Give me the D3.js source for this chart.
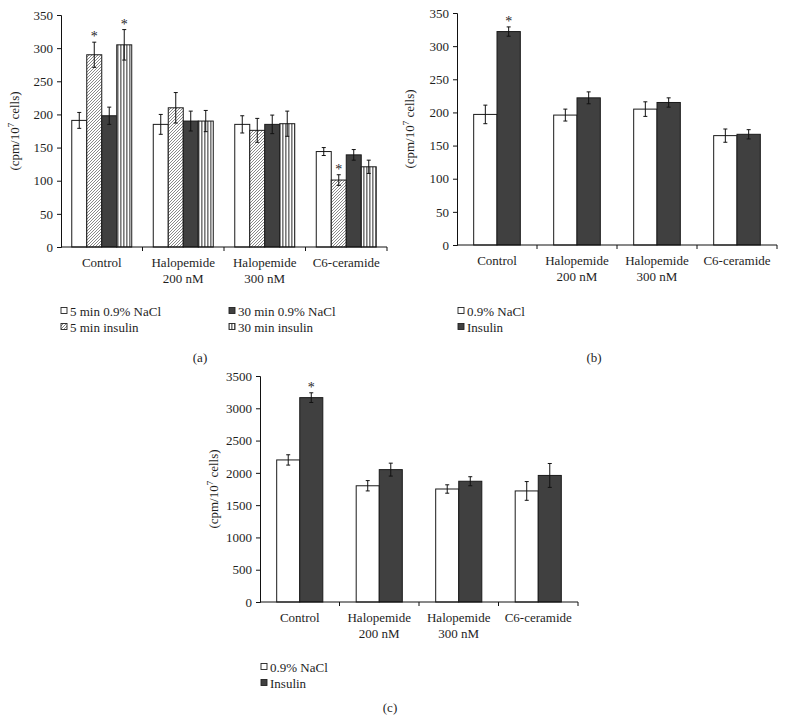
<!DOCTYPE html>
<html><head><meta charset="utf-8">
<script src="https://cdn.jsdelivr.net/npm/d3@7"></script>
<style>
html,body{margin:0;padding:0;background:#fff;}
svg{display:block;}
svg text{font-family:"Liberation Serif","Tinos","Times New Roman",Times,"DejaVu Serif","Noto Serif",serif;}
</style></head>
<body>
<svg id="c" width="785" height="723"></svg>
<script>
// ---------- data ----------
const categories = ["Control", "Halopemide|200 nM", "Halopemide|300 nM", "C6-ceramide"];

// panel (a)
const seriesA = ["5 min 0.9% NaCl", "5 min insulin", "30 min 0.9% NaCl", "30 min insulin"];
const a_5minNaCl   = [191, 185, 185, 144];
const a_5minIns    = [290, 210, 176, 101];
const a_30minNaCl  = [198, 190, 185, 139];
const a_30minIns   = [305, 190, 186, 121];
const a_err5NaCl   = [12, 15, 13, 6];
const a_err5Ins    = [19, 23, 18, 8];
const a_err30NaCl  = [13, 15, 14, 8];
const a_err30Ins   = [23, 16, 19, 10];
const a_star5Ins   = [true, false, false, true];
const a_star30Ins  = [true, false, false, false];
const ticksA = [0, 50, 100, 150, 200, 250, 300, 350];

// panel (b)
const seriesB = ["0.9% NaCl", "Insulin"];
const b_NaCl   = [197, 196, 205, 165];
const b_Ins    = [322, 222, 215, 167];
const b_errNaCl = [14, 9, 11, 10];
const b_errIns  = [7, 9, 7, 7];
const b_starIns = [true, false, false, false];
const ticksB = [0, 50, 100, 150, 200, 250, 300, 350];

// panel (c)
const seriesC = ["0.9% NaCl", "Insulin"];
const c_NaCl   = [2200, 1800, 1750, 1720];
const c_Ins    = [3165, 2050, 1870, 1960];
const c_errNaCl = [80, 80, 65, 145];
const c_errIns  = [75, 100, 70, 185];
const c_starIns = [true, false, false, false];
const ticksC = [0, 500, 1000, 1500, 2000, 2500, 3000, 3500];

// ---------- drawing ----------
const FF = '"Liberation Serif", Tinos, "Times New Roman", Times, "DejaVu Serif", serif';
const svg = d3.select("#c");
const FONT = 13;
const TXT = "#1e1e1e";
const defs = svg.append("defs");

const diag = defs.append("pattern").attr("id", "diag").attr("patternUnits", "userSpaceOnUse")
  .attr("width", 3).attr("height", 3);
diag.append("rect").attr("width", 3).attr("height", 3).attr("fill", "#fff");
diag.append("path").attr("d", "M-1,1 l2,-2 M0,3 l3,-3 M2,4 l2,-2").attr("stroke", "#7c7c7c").attr("stroke-width", 0.9);

const vert = defs.append("pattern").attr("id", "vert").attr("patternUnits", "userSpaceOnUse")
  .attr("width", 3).attr("height", 4);
vert.append("rect").attr("width", 3).attr("height", 4).attr("fill", "#fff");
vert.append("rect").attr("x", 0).attr("width", 1.6).attr("height", 4).attr("fill", "#7a7a7a");

const fills = { white: "#ffffff", diag: "url(#diag)", dark: "#404040", vert: "url(#vert)" };

function txt(g, x, y, s, size, anchor) {
  return g.append("text").attr("x", x).attr("y", y).attr("text-anchor", anchor || "start")
    .attr("font-family", FF).attr("font-size", size || FONT).attr("fill", TXT).text(s);
}

function drawPanel(cfg) {
  const g = svg.append("g");
  const x = d3.scaleBand().domain(categories).range([cfg.x0, cfg.x1]).padding(0);
  const y = d3.scaleLinear().domain([0, cfg.ymax]).range([cfg.y0, cfg.ytop]);
  const groupW = x.bandwidth() * cfg.groupFrac;
  const xi = d3.scaleBand().domain(d3.range(cfg.series.length)).range([0, groupW]).padding(0);

  cfg.series.forEach((s, si) => {
    categories.forEach((cat, ci) => {
      const bx = x(cat) + (x.bandwidth() - groupW) / 2 + xi(si);
      const v = s.values[ci];
      g.append("rect")
        .attr("x", bx).attr("y", y(v))
        .attr("width", xi.bandwidth()).attr("height", y(0) - y(v))
        .attr("fill", fills[s.fill]).attr("stroke", "#1a1a1a").attr("stroke-width", 1);
      const e = s.err[ci];
      const cx = bx + xi.bandwidth() / 2;
      g.append("line").attr("x1", cx).attr("x2", cx).attr("y1", y(v + e)).attr("y2", y(v - e))
        .attr("stroke", "#111").attr("stroke-width", 1);
      [v + e, v - e].forEach(t => g.append("line").attr("x1", cx - 2).attr("x2", cx + 2)
        .attr("y1", y(t)).attr("y2", y(t)).attr("stroke", "#111").attr("stroke-width", 1));
      if (s.star && s.star[ci]) txt(g, cx, y(v + e) - 1, "*", 14, "middle");
    });
  });

  const ya = g.append("g").attr("transform", `translate(${cfg.x0},0)`)
    .call(d3.axisLeft(y).tickValues(cfg.ticks).tickSize(4).tickPadding(4).tickFormat(d3.format("d")));
  ya.attr("font-family", FF);
  ya.select(".domain").attr("stroke", "#111");
  ya.selectAll("line").attr("stroke", "#111");
  ya.selectAll("text").attr("font-size", FONT).attr("font-family", FF).attr("fill", TXT);

  g.append("line").attr("x1", cfg.x0).attr("x2", cfg.x1).attr("y1", cfg.y0).attr("y2", cfg.y0).attr("stroke", "#111");
  categories.forEach(cat => {
    const xe = x(cat) + x.bandwidth();
    g.append("line").attr("x1", xe).attr("x2", xe).attr("y1", cfg.y0).attr("y2", cfg.y0 + 4).attr("stroke", "#111");
    cat.split("|").forEach((ln, li) => txt(g, x(cat) + x.bandwidth() / 2, cfg.y0 + 20 + li * 15.5, ln, FONT, "middle"));
  });

  const yl = g.append("text")
    .attr("transform", `translate(${cfg.ylabX},${(cfg.y0 + cfg.ytop) / 2}) rotate(-90)`)
    .attr("text-anchor", "middle").attr("font-family", FF).attr("font-size", 13).attr("fill", TXT);
  yl.append("tspan").text("(cpm/10");
  yl.append("tspan").attr("dy", -5).attr("font-size", 9).text("7");
  yl.append("tspan").attr("dy", 5).text(" cells)");

  cfg.series.forEach((s, si) => {
    const lx = cfg.legend[si][0], ly = cfg.legend[si][1];
    g.append("rect").attr("x", lx).attr("y", ly - 3.5).attr("width", 6).attr("height", 6)
      .attr("fill", fills[s.fill]).attr("stroke", "#222").attr("stroke-width", 0.9);
    txt(g, lx + 9, ly + 4.5, s.name, FONT);
  });

  txt(g, cfg.lab[0], cfg.lab[1], cfg.lab[2], FONT, "middle");
}

drawPanel({
  x0: 61, x1: 387, y0: 247, ytop: 15, ymax: 350, ticks: ticksA, groupFrac: 0.736, ylabX: 19,
  series: [
    {name: seriesA[0], values: a_5minNaCl, err: a_err5NaCl, fill: "white"},
    {name: seriesA[1], values: a_5minIns, err: a_err5Ins, fill: "diag", star: a_star5Ins},
    {name: seriesA[2], values: a_30minNaCl, err: a_err30NaCl, fill: "dark"},
    {name: seriesA[3], values: a_30minIns, err: a_err30Ins, fill: "vert", star: a_star30Ins}
  ],
  legend: [[61, 311], [61, 327], [229, 311], [229, 327]],
  lab: [200, 362, "(a)"]
});

drawPanel({
  x0: 457, x1: 777, y0: 245, ytop: 13, ymax: 350, ticks: ticksB, groupFrac: 0.583, ylabX: 414,
  series: [
    {name: seriesB[0], values: b_NaCl, err: b_errNaCl, fill: "white"},
    {name: seriesB[1], values: b_Ins, err: b_errIns, fill: "dark", star: b_starIns}
  ],
  legend: [[458, 311], [458, 327]],
  lab: [594, 362, "(b)"]
});

drawPanel({
  x0: 260, x1: 578, y0: 602, ytop: 376, ymax: 3500, ticks: ticksC, groupFrac: 0.58, ylabX: 218,
  series: [
    {name: seriesC[0], values: c_NaCl, err: c_errNaCl, fill: "white"},
    {name: seriesC[1], values: c_Ins, err: c_errIns, fill: "dark", star: c_starIns}
  ],
  legend: [[261, 667], [261, 683]],
  lab: [390, 712, "(c)"]
});
</script>
</body></html>
